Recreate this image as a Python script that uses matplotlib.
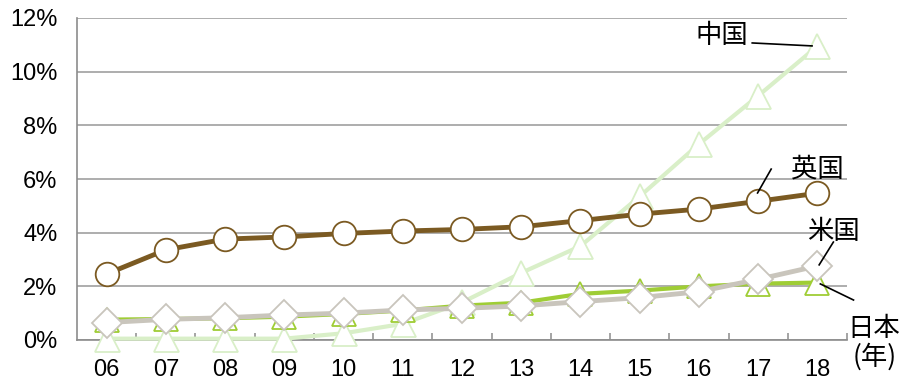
import matplotlib
matplotlib.use("Agg")
import matplotlib.pyplot as plt
from matplotlib import font_manager

years = ["06", "07", "08", "09", "10", "11", "12", "13", "14", "15", "16", "17", "18"]
uk = [2.46, 3.36, 3.76, 3.84, 3.97, 4.06, 4.12, 4.22, 4.45, 4.69, 4.88, 5.17, 5.47]
china = [0.05, 0.05, 0.05, 0.05, 0.25, 0.6, 1.4, 2.5, 3.5, 5.35, 7.3, 9.1, 10.95]
japan = [0.76, 0.78, 0.81, 0.87, 0.97, 1.1, 1.28, 1.39, 1.72, 1.84, 2.0, 2.1, 2.14]
usa = [0.65, 0.77, 0.83, 0.93, 1.0, 1.12, 1.18, 1.27, 1.43, 1.58, 1.8, 2.26, 2.76]
yticks = [0, 2, 4, 6, 8, 10, 12]

names = {f.name for f in font_manager.fontManager.ttflist}
latin = "Liberation Sans Narrow" if "Liberation Sans Narrow" in names else "Liberation Sans"
plt.rcParams['font.family'] = [latin, 'Noto Sans CJK JP', 'DejaVu Sans']
cjk = ['Noto Sans CJK JP', 'DejaVu Sans']

fig = plt.figure(figsize=(9.16, 3.8), dpi=100)
ax = fig.add_axes([77/916, 40/380, 770/916, 322/380])

x = list(range(len(years)))
ax.plot(x, china, color="#d9efc8", lw=3, marker="^", ms=18, mfc="white", mec="#d9efc8", mew=1.3, zorder=3, clip_on=False)
ax.plot(x, japan, color="#9fcd35", lw=3, marker="^", ms=17, mfc="white", mec="#9fcd35", mew=1.3, zorder=4, clip_on=False)
ax.plot(x, usa, color="#c9c5bc", lw=3.5, marker="D", ms=15, mfc="white", mec="#c9c5bc", mew=1.3, zorder=5, clip_on=False)
ax.plot(x, uk, color="#7b5a22", lw=3.5, marker="o", ms=17, mfc="white", mec="#7b5a22", mew=1.3, zorder=6, clip_on=False)

ax.set_xlim(-0.5, 12.5)
ax.set_ylim(0, 12)
ax.set_yticks(yticks)
ax.set_yticklabels([f"{v}%" for v in yticks], fontsize=17)
ax.set_xticks(x)
ax.set_xticklabels(years, fontsize=17)
ax.set_xticks([i + 0.5 for i in x], minor=True)
ax.tick_params(axis="both", which="major", length=0)
ax.tick_params(axis="y", pad=14)
ax.tick_params(axis="x", pad=14)
ax.tick_params(axis="x", which="minor", direction="in", length=5, color="#8c8c8c", width=1.1)
ax.grid(axis="y", color="#a0a0a0", lw=1.2, zorder=0)
for side in ["top", "right"]:
    ax.spines[side].set_visible(False)
for side in ["left", "bottom"]:
    ax.spines[side].set_color("#8c8c8c")
    ax.spines[side].set_linewidth(1.2)

kw = dict(fontsize=19, family=cjk, ha="center", va="center", clip_on=False)
ax.text(10.39, 11.33, "中国", **kw)
ax.text(12.0, 6.37, "英国", **kw)
ax.text(12.27, 4.06, "米国", **kw)
ax.text(12.95, 0.41, "日本", **kw)
ax.text(12.96, -0.63, "(年)", **kw)
lk = dict(color="black", lw=1.2, clip_on=False, zorder=7)
ax.plot([10.9, 11.91], [11.07, 10.96], **lk)
ax.plot([11.22, 10.99], [6.37, 5.48], **lk)
ax.plot([12.27, 12.03], [3.65, 2.8], **lk)
ax.plot([12.05, 12.61], [2.09, 1.49], **lk)

fig.savefig("out.png", dpi=100)
